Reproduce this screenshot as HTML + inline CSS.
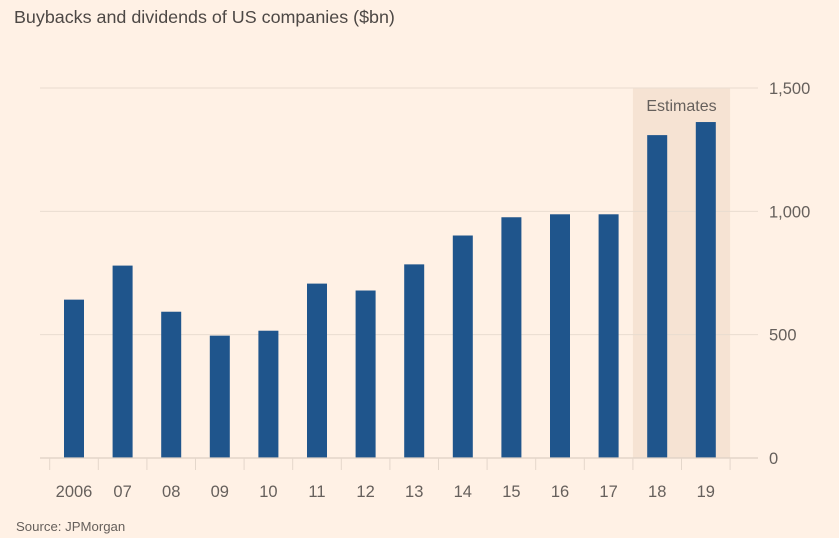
<!DOCTYPE html>
<html><head><meta charset="utf-8"><style>
body{margin:0;background:#fff1e5;}
svg{display:block;font-family:"Liberation Sans",sans-serif;}
</style></head><body>
<svg width="839" height="538" viewBox="0 0 839 538">
<rect width="839" height="538" fill="#fff1e5"/>
<text x="14" y="23" font-size="17.9" fill="#4d4845">Buybacks and dividends of US companies ($bn)</text>
<g id="plot"></g>
<text x="16" y="531" font-size="13.2" fill="#66605c">Source: JPMorgan</text>
</svg>
<script>
const categories=["2006","07","08","09","10","11","12","13","14","15","16","17","18","19"];
const values=[642,780,593,496,516,707,679,785,902,976,988,988,1309,1362];
const yTicks=[0,500,1000,1500];
const yTickLabels=["0","500","1,000","1,500"];
const estimateStart=12;
const NS="http://www.w3.org/2000/svg";
const g=document.getElementById('plot');
const y0=458,yTop=88,yMax=1500,x0=74,step=48.6,bw=20;
const ys=v=>y0-(v/yMax)*(y0-yTop);
const xs=i=>x0+i*step;
function mk(t,a){const e=document.createElementNS(NS,t);for(const k in a)e.setAttribute(k,a[k]);g.appendChild(e);return e;}
let sh=mk('rect',{x:xs(estimateStart)-step/2,y:yTop,width:step*(categories.length-estimateStart),height:y0-yTop,fill:'#f6e3d3'});


let et=mk('text',{x:xs(estimateStart)+step/2,y:yTop+23,'font-size':16,fill:'#66605c','text-anchor':'middle'});
et.textContent='Estimates';


yTicks.forEach((t,i)=>{
  if(t>0){let l=mk('line',{x1:40,x2:758,y1:ys(t),y2:ys(t),stroke:'#e9dcd0','stroke-width':1});
  
  }
  let tx=mk('text',{x:769,y:ys(t)+6,'font-size':16.5,fill:'#66605c'});
  tx.textContent=yTickLabels[i];
  
  
});
values.forEach((v,i)=>{
  let r=mk('rect',{x:xs(i)-bw/2,y:ys(v),width:bw,height:y0-ys(v),fill:'#1f558c'});
  
  
});
let ax=mk('line',{x1:40,x2:758,y1:y0,y2:y0,stroke:'#ddd0c4','stroke-width':1.2});


for(let i=0;i<=categories.length;i++){
  let t=mk('line',{x1:xs(i)-step/2,x2:xs(i)-step/2,y1:y0,y2:y0+12,stroke:'#e4d7cb','stroke-width':1});
  
  
}
categories.forEach((c,i)=>{
  let t=mk('text',{x:xs(i),y:497,'font-size':16.5,fill:'#66605c','text-anchor':'middle'});
  t.textContent=c;
  
  
});
</script>
</body></html>
